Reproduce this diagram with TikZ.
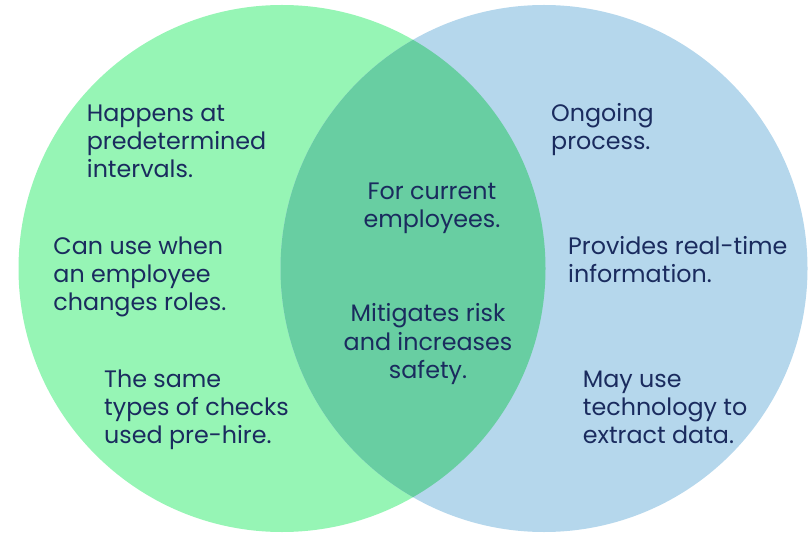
\documentclass[tikz,border=0pt]{standalone}
\usepackage{fontspec}
\setmainfont{Poppins}
\definecolor{lgreen}{RGB}{150,245,181}
\definecolor{lblue}{RGB}{181,215,236}
\definecolor{lmid}{RGB}{104,206,162}
\definecolor{navy}{RGB}{26,43,94}
\tikzset{
  vtext/.style={font=\fontsize{23.8bp}{28bp}\selectfont, text=navy, inner sep=0pt},
  ltext/.style={vtext, align=left, anchor=base west},
  ctext/.style={vtext, align=center, anchor=base}
}
\begin{document}
\begin{tikzpicture}[x=1bp,y=-1bp]
\useasboundingbox (0,0) rectangle (811,534);
\fill[lgreen] (282,268.5) circle[radius=263.5];
\fill[lblue] (544,268.5) circle[radius=263.5];
\begin{scope}
\clip (282,268.5) circle[radius=263.5];
\fill[lmid] (544,268.5) circle[radius=263.5];
\end{scope}
% base anchor = baseline of the last line
\node[ltext] (l1) at (86.7,177.2) {Happens at\\predetermined\\intervals.};
\node[ltext] (l2) at (53.3,310.5) {Can use when\\an employee\\changes roles.};
\node[ltext] (l3) at (104,443) {The same\\types of checks\\used pre-hire.};
\node[ctext] (c1) at (432,227.3) {For current\\employees.};
\node[ctext] (c2) at (428,378) {Mitigates risk\\and increases\\safety.};
\node[ltext] (r1) at (551,149.7) {Ongoing\\process.};
\node[ltext] (r2) at (568,283) {Provides real-time\\information.};
\node[ltext] (r3) at (582.7,443.8) {May use\\technology to\\extract data.};
\end{tikzpicture}
\end{document}
